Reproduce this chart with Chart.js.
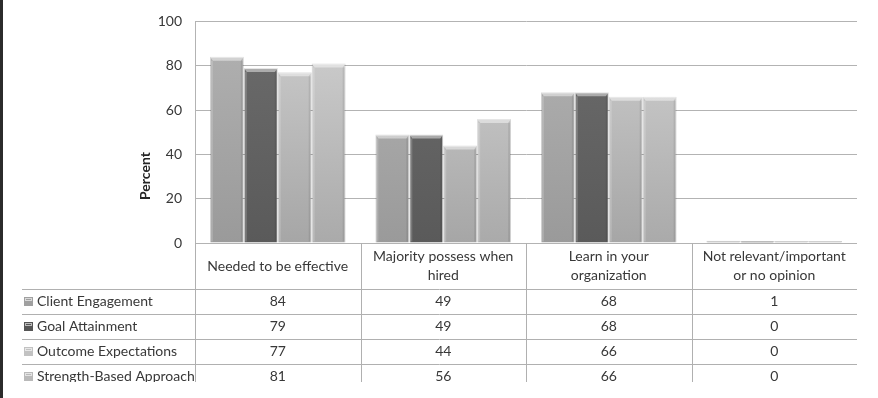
<!DOCTYPE html>
<html>
<head>
<meta charset="utf-8">
<script src="https://cdn.jsdelivr.net/npm/chart.js@4/dist/chart.umd.min.js"></script>
<style>
  html, body { margin: 0; padding: 0; background: #ffffff; }
  #wrap { width: 878px; height: 398px; position: relative; }
</style>
</head>
<body>
<div id="wrap"><canvas id="c" width="878" height="398"></canvas></div>
<script>
// ---- data ----
const categories = [
  ["Needed to be effective"],
  ["Majority possess when", "hired"],
  ["Learn in your", "organization"],
  ["Not relevant/important", "or no opinion"]
];
const seriesNames = ["Client Engagement", "Goal Attainment", "Outcome Expectations", "Strength-Based Approach"];
const clientEngagement    = [84, 49, 68, 1];
const goalAttainment      = [79, 49, 68, 0];
const outcomeExpectations = [77, 44, 66, 0];
const strengthBased       = [81, 56, 66, 0];
const yTickValues = [0, 20, 40, 60, 80, 100];
const yAxisTitle = "Percent";

// ---- styles ----
const barTop    = ["#b2b2b2", "#6c6c6c", "#cdcdcd", "#d0d0d0"];
const barBottom = ["#9a9a9a", "#5a5a5a", "#a6a6a6", "#aaaaaa"];
const keyColors = ["#a0a0a0", "#555555", "#c2c2c2", "#b9b9b9"];
const textColor = "#383838";
const gridColor = "#b3b3b3";
const tableLine = "#b0b0b0";
const FONT = "Lato, 'Open Sans', sans-serif";

const seriesValues = [clientEngagement, goalAttainment, outcomeExpectations, strengthBased];

function grad(i) {
  return (ctx) => {
    const c = ctx.chart, a = c.chartArea;
    if (!a) return barTop[i];
    const g = c.ctx.createLinearGradient(0, a.top, 0, a.bottom);
    g.addColorStop(0, barTop[i]);
    g.addColorStop(1, barBottom[i]);
    return g;
  };
}

const datasets = seriesValues.map((vals, i) => ({
  label: seriesNames[i],
  data: vals,
  backgroundColor: grad(i),
  borderColor: "rgba(0,0,0,0.18)",
  borderWidth: 1,
  borderSkipped: "bottom",
  minBarLength: 2,
  categoryPercentage: 0.82,
  barPercentage: 1.0
}));

const framePlugin = {
  id: "frame",
  beforeDraw(chart) {
    const ctx = chart.ctx;
    ctx.save();
    ctx.fillStyle = "#ffffff";
    ctx.fillRect(0, 0, chart.width, chart.height);
    ctx.fillStyle = "#2b2b2b";
    ctx.fillRect(0, 0, 3, chart.height);
    ctx.restore();
  }
};

const bevelPlugin = {
  id: "bevel",
  afterDatasetsDraw(chart) {
    const ctx = chart.ctx;
    ctx.save();
    chart.data.datasets.forEach((ds, di) => {
      const meta = chart.getDatasetMeta(di);
      meta.data.forEach((bar) => {
        const h = bar.base - bar.y;
        if (h < 8) return;
        const l = bar.x - bar.width / 2, r = bar.x + bar.width / 2, t = bar.y;
        ctx.fillStyle = "rgba(255,255,255,0.45)";
        ctx.beginPath();
        ctx.moveTo(l, t); ctx.lineTo(r, t); ctx.lineTo(r - 3, t + 4); ctx.lineTo(l + 3, t + 4);
        ctx.closePath(); ctx.fill();
        ctx.fillStyle = "rgba(255,255,255,0.18)";
        ctx.fillRect(l + 1, t + 4, 2, h - 5);
        ctx.fillStyle = "rgba(0,0,0,0.08)";
        ctx.fillRect(r - 3, t + 4, 2, h - 5);
      });
    });
    ctx.restore();
  }
};

const tablePlugin = {
  id: "table",
  afterDraw(chart) {
    const ctx = chart.ctx;
    const a = chart.chartArea;
    const xs = chart.scales.x;
    const n = categories.length;
    const colW = (a.right - a.left) / n;
    const headerTop = a.bottom;
    const headerBottom = a.bottom + 46;
    const rowH = 25;
    const clipBottom = 382;
    const labelLeft = 22;

    ctx.save();
    ctx.beginPath();
    ctx.rect(0, 0, chart.width, clipBottom);
    ctx.clip();

    ctx.strokeStyle = tableLine;
    ctx.lineWidth = 1;
    for (let r = 0; r < seriesNames.length; r++) {
      const y = Math.round(headerBottom + r * rowH) + 0.5;
      ctx.beginPath(); ctx.moveTo(labelLeft, y); ctx.lineTo(a.right, y); ctx.stroke();
    }
    for (let i = 0; i < n; i++) {
      const x = Math.round(a.left + i * colW) + 0.5;
      ctx.beginPath(); ctx.moveTo(x, headerTop); ctx.lineTo(x, clipBottom); ctx.stroke();
    }

    ctx.fillStyle = textColor;
    ctx.textAlign = "center";
    ctx.textBaseline = "middle";
    ctx.font = "14px " + FONT;
    categories.forEach((lines, i) => {
      const cx = xs.getPixelForValue(i);
      const mid = (headerTop + headerBottom) / 2;
      const lh = 19;
      const start = mid - (lines.length - 1) * lh / 2;
      lines.forEach((ln, k) => ctx.fillText(ln, cx, start + k * lh));
    });
    seriesValues.forEach((vals, r) => {
      const cy = headerBottom + r * rowH + rowH / 2;
      ctx.fillStyle = keyColors[r];
      ctx.fillRect(24, Math.round(cy - 5), 9, 9);
      ctx.strokeStyle = "rgba(255,255,255,0.6)";
      ctx.strokeRect(25.5, Math.round(cy - 5) + 1.5, 6, 2);
      ctx.fillStyle = textColor;
      ctx.textAlign = "left";
      ctx.fillText(seriesNames[r], 37, cy);
      ctx.textAlign = "center";
      vals.forEach((v, i) => {
        ctx.fillText(String(v), xs.getPixelForValue(i), cy);
      });
    });
    ctx.restore();

    ctx.save();
    ctx.translate(145, 176);
    ctx.rotate(-Math.PI / 2);
    ctx.fillStyle = "#262626";
    ctx.font = "bold 14px " + FONT;
    ctx.textAlign = "center";
    ctx.textBaseline = "middle";
    ctx.fillText(yAxisTitle, 0, 0);
    ctx.restore();
  }
};

new Chart(document.getElementById("c"), {
  type: "bar",
  data: { labels: categories, datasets },
  options: {
    responsive: false,
    animation: false,
    events: [],
    layout: { padding: { left: 130, right: 21, top: 20, bottom: 155 } },
    plugins: { legend: { display: false }, tooltip: { enabled: false } },
    scales: {
      x: { display: false },
      y: {
        min: 0, max: 100,
        afterFit(scale) { scale.width = 65; },
        afterBuildTicks(scale) { scale.ticks = yTickValues.map(v => ({ value: v })); },
        ticks: { color: textColor, font: { family: FONT, size: 14 }, padding: 13 },
        grid: { color: gridColor, drawTicks: false },
        border: { display: true, color: gridColor }
      }
    }
  },
  plugins: [framePlugin, bevelPlugin, tablePlugin]
});
</script>
</body>
</html>
